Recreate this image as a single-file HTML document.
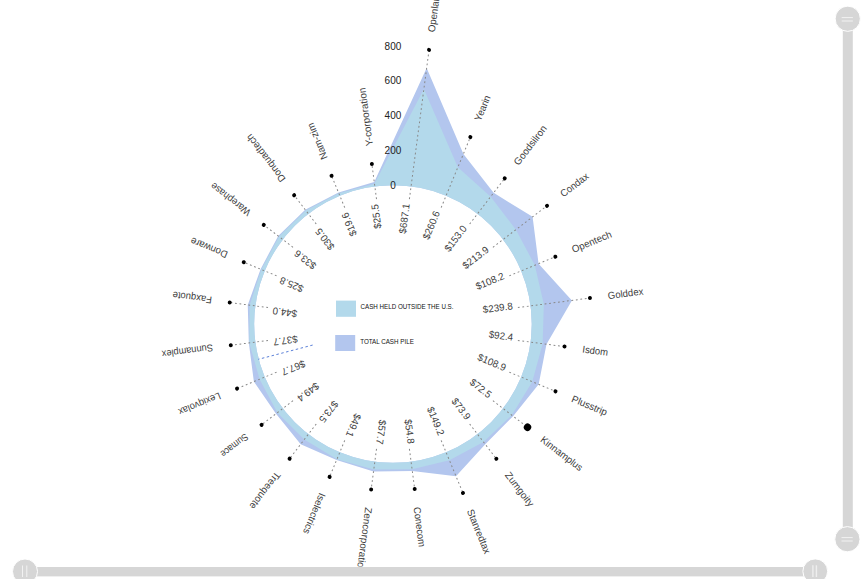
<!DOCTYPE html>
<html><head><meta charset="utf-8"><style>
html,body{margin:0;padding:0;background:#fff;width:868px;height:579px;overflow:hidden}
svg{display:block}
text{font-family:"Liberation Sans",sans-serif}
.nm{font-size:10px;fill:#404040}
.val{font-size:10px;fill:#404040}
.ax{font-size:10px;fill:#222}
.lg{font-size:8px;fill:#111}
.dl{stroke:#888;stroke-width:1;stroke-dasharray:1.8 2.7}
</style></head><body>
<svg width="868" height="579" viewBox="0 0 868 579">
<defs><clipPath id="cp"><rect x="0" y="0" width="836" height="566.6"/></clipPath></defs><g clip-path="url(#cp)">
<path d="M426.66,67.92 L463.41,153.89 L493.64,192.77 L532.58,216.86 L538.57,263.68 L571.91,300.44 L546.49,344.21 L538.68,384.36 L513.07,416.17 L485.27,444.31 L456.00,476.21 L412.31,471.06 L373.52,471.56 L336.57,460.12 L300.67,444.26 L276.02,413.73 L253.84,381.62 L248.84,342.97 L247.75,304.88 L260.57,269.17 L278.20,235.95 L305.22,209.67 L338.53,192.62 L374.25,181.99 Z M254.15,324.00 A138.8,138.8 0 1,0 531.75,324.00 A138.8,138.8 0 1,0 254.15,324.00 Z" fill="#b3c6ee" fill-rule="evenodd"/>
<path d="M423.89,88.97 L457.85,167.33 L490.68,196.64 L515.90,229.66 L534.84,265.23 L543.84,304.14 L542.63,343.71 L532.27,381.71 L511.76,415.17 L483.48,441.98 L449.39,460.27 L412.07,469.20 L373.79,469.54 L336.91,459.30 L304.32,439.50 L277.45,412.63 L259.57,379.25 L249.30,342.91 L249.65,305.13 L261.34,269.49 L278.97,236.54 L305.81,210.43 L338.84,193.36 L374.49,183.80 Z M254.15,324.00 A138.8,138.8 0 1,0 531.75,324.00 A138.8,138.8 0 1,0 254.15,324.00 Z" fill="#b3d9eb" fill-rule="evenodd"/>
<g transform="translate(392.95,324.0) rotate(-82.5)"><line x1="126" y1="0" x2="276.49" y2="0" class="dl"/><circle cx="276.49" cy="0" r="2" fill="#000"/><text x="294.59" y="0" dy="3.5" class="nm" textLength="41.7" lengthAdjust="spacingAndGlyphs">Openlane</text><text x="123.47" y="0" dy="1.0" class="val" text-anchor="end" transform="scale(0.98,1)">$687.1</text></g>
<g transform="translate(392.95,324.0) rotate(-67.5)"><line x1="126" y1="0" x2="202.32" y2="0" class="dl"/><circle cx="202.32" cy="0" r="2" fill="#000"/><text x="220.42" y="0" dy="3.5" class="nm" textLength="26.8" lengthAdjust="spacingAndGlyphs">Yearin</text><text x="123.47" y="0" dy="1.0" class="val" text-anchor="end" transform="scale(0.98,1)">$260.6</text></g>
<g transform="translate(392.95,324.0) rotate(-52.5)"><line x1="126" y1="0" x2="183.61" y2="0" class="dl"/><circle cx="183.61" cy="0" r="2" fill="#000"/><text x="201.71" y="0" dy="3.5" class="nm" textLength="47.4" lengthAdjust="spacingAndGlyphs">Goodsilron</text><text x="123.47" y="0" dy="1.0" class="val" text-anchor="end" transform="scale(0.98,1)">$153.0</text></g>
<g transform="translate(392.95,324.0) rotate(-37.5)"><line x1="126" y1="0" x2="194.20" y2="0" class="dl"/><circle cx="194.20" cy="0" r="2" fill="#000"/><text x="212.30" y="0" dy="3.5" class="nm" textLength="32.8" lengthAdjust="spacingAndGlyphs">Condax</text><text x="123.47" y="0" dy="1.0" class="val" text-anchor="end" transform="scale(0.98,1)">$213.9</text></g>
<g transform="translate(392.95,324.0) rotate(-22.5)"><line x1="126" y1="0" x2="175.82" y2="0" class="dl"/><circle cx="175.82" cy="0" r="2" fill="#000"/><text x="193.92" y="0" dy="3.5" class="nm" textLength="42.3" lengthAdjust="spacingAndGlyphs">Opentech</text><text x="123.47" y="0" dy="1.0" class="val" text-anchor="end" transform="scale(0.98,1)">$108.2</text></g>
<g transform="translate(392.95,324.0) rotate(-7.5)"><line x1="126" y1="0" x2="198.70" y2="0" class="dl"/><circle cx="198.70" cy="0" r="2" fill="#000"/><text x="216.80" y="0" dy="3.5" class="nm" textLength="35.6" lengthAdjust="spacingAndGlyphs">Golddex</text><text x="123.47" y="0" dy="1.0" class="val" text-anchor="end" transform="scale(0.98,1)">$239.8</text></g>
<g transform="translate(392.95,324.0) rotate(7.5)"><line x1="126" y1="0" x2="173.07" y2="0" class="dl"/><circle cx="173.07" cy="0" r="2" fill="#000"/><text x="191.17" y="0" dy="3.5" class="nm" textLength="25.9" lengthAdjust="spacingAndGlyphs">Isdom</text><text x="123.47" y="0" dy="1.0" class="val" text-anchor="end" transform="scale(0.98,1)">$92.4</text></g>
<g transform="translate(392.95,324.0) rotate(22.5)"><line x1="126" y1="0" x2="175.94" y2="0" class="dl"/><circle cx="175.94" cy="0" r="2" fill="#000"/><text x="194.04" y="0" dy="3.5" class="nm" textLength="37.5" lengthAdjust="spacingAndGlyphs">Plusstrip</text><text x="123.47" y="0" dy="1.0" class="val" text-anchor="end" transform="scale(0.98,1)">$108.9</text></g>
<g transform="translate(392.95,324.0) rotate(37.5)"><line x1="126" y1="0" x2="169.61" y2="0" class="dl"/><circle cx="169.61" cy="0" r="3.7" fill="#000"/><text x="187.71" y="0" dy="3.5" class="nm" textLength="50.1" lengthAdjust="spacingAndGlyphs">Kinnamplus</text><text x="123.47" y="0" dy="1.0" class="val" text-anchor="end" transform="scale(0.98,1)">$72.5</text></g>
<g transform="translate(392.95,324.0) rotate(52.5)"><line x1="126" y1="0" x2="169.85" y2="0" class="dl"/><circle cx="169.85" cy="0" r="2" fill="#000"/><text x="187.95" y="0" dy="3.5" class="nm" textLength="40.4" lengthAdjust="spacingAndGlyphs">Zumgoity</text><text x="123.47" y="0" dy="1.0" class="val" text-anchor="end" transform="scale(0.98,1)">$73.9</text></g>
<g transform="translate(392.95,324.0) rotate(67.5)"><line x1="126" y1="0" x2="182.95" y2="0" class="dl"/><circle cx="182.95" cy="0" r="2" fill="#000"/><text x="201.05" y="0" dy="3.5" class="nm" textLength="47.1" lengthAdjust="spacingAndGlyphs">Stanredtax</text><text x="123.47" y="0" dy="1.0" class="val" text-anchor="end" transform="scale(0.98,1)">$149.2</text></g>
<g transform="translate(392.95,324.0) rotate(82.5)"><line x1="126" y1="0" x2="166.53" y2="0" class="dl"/><circle cx="166.53" cy="0" r="2" fill="#000"/><text x="184.63" y="0" dy="3.5" class="nm" textLength="40.1" lengthAdjust="spacingAndGlyphs">Conecom</text><text x="123.47" y="0" dy="1.0" class="val" text-anchor="end" transform="scale(0.98,1)">$54.8</text></g>
<g transform="translate(392.95,324.0) rotate(97.5)"><line x1="126" y1="0" x2="167.03" y2="0" class="dl"/><circle cx="167.03" cy="0" r="2" fill="#000"/><text x="185.13" y="0" dy="3.5" class="nm" textLength="66.2" lengthAdjust="spacingAndGlyphs">Zencorporation</text><text x="123.47" y="0" dy="1.0" class="val" text-anchor="end" transform="scale(0.98,1)">$57.7</text></g>
<g transform="translate(392.95,324.0) rotate(112.5)"><line x1="126" y1="0" x2="165.54" y2="0" class="dl"/><circle cx="165.54" cy="0" r="2" fill="#000"/><text x="183.64" y="0" dy="3.5" class="nm" textLength="43.3" lengthAdjust="spacingAndGlyphs">Iselectrics</text><text x="123.47" y="0" dy="1.0" class="val" text-anchor="end" transform="scale(0.98,1)">$49.1</text></g>
<g transform="translate(392.95,324.0) rotate(127.5)"><line x1="126" y1="0" x2="169.78" y2="0" class="dl"/><circle cx="169.78" cy="0" r="2" fill="#000"/><text x="187.88" y="0" dy="3.5" class="nm" textLength="44.2" lengthAdjust="spacingAndGlyphs">Treequote</text><text x="123.47" y="0" dy="1.0" class="val" text-anchor="end" transform="scale(0.98,1)">$73.5</text></g>
<g transform="translate(392.95,324.0) rotate(142.5)"><line x1="126" y1="0" x2="165.59" y2="0" class="dl"/><circle cx="165.59" cy="0" r="2" fill="#000"/><text x="183.69" y="0" dy="3.5" class="nm" textLength="32.1" lengthAdjust="spacingAndGlyphs">Sumace</text><text x="123.47" y="0" dy="1.0" class="val" text-anchor="end" transform="scale(0.98,1)">$49.4</text></g>
<g transform="translate(392.95,324.0) rotate(157.5)"><line x1="126" y1="0" x2="168.77" y2="0" class="dl"/><circle cx="168.77" cy="0" r="2" fill="#000"/><text x="186.87" y="0" dy="3.5" class="nm" textLength="44.8" lengthAdjust="spacingAndGlyphs">Lexiqvolax</text><text x="123.47" y="0" dy="1.0" class="val" text-anchor="end" transform="scale(0.98,1)">$67.7</text></g>
<g transform="translate(392.95,324.0) rotate(172.5)"><line x1="126" y1="0" x2="163.56" y2="0" class="dl"/><circle cx="163.56" cy="0" r="2" fill="#000"/><text x="181.66" y="0" dy="3.5" class="nm" textLength="51.3" lengthAdjust="spacingAndGlyphs">Sunnamplex</text><text x="123.47" y="0" dy="1.0" class="val" text-anchor="end" transform="scale(0.98,1)">$37.7</text></g>
<g transform="translate(392.95,324.0) rotate(187.5)"><line x1="126" y1="0" x2="164.65" y2="0" class="dl"/><circle cx="164.65" cy="0" r="2" fill="#000"/><text x="182.75" y="0" dy="3.5" class="nm" textLength="39.5" lengthAdjust="spacingAndGlyphs">Faxquote</text><text x="123.47" y="0" dy="1.0" class="val" text-anchor="end" transform="scale(0.98,1)">$44.0</text></g>
<g transform="translate(392.95,324.0) rotate(202.5)"><line x1="126" y1="0" x2="161.49" y2="0" class="dl"/><circle cx="161.49" cy="0" r="2" fill="#000"/><text x="179.59" y="0" dy="3.5" class="nm" textLength="39.2" lengthAdjust="spacingAndGlyphs">Donware</text><text x="123.47" y="0" dy="1.0" class="val" text-anchor="end" transform="scale(0.98,1)">$25.8</text></g>
<g transform="translate(392.95,324.0) rotate(217.5)"><line x1="126" y1="0" x2="162.84" y2="0" class="dl"/><circle cx="162.84" cy="0" r="2" fill="#000"/><text x="180.94" y="0" dy="3.5" class="nm" textLength="47.5" lengthAdjust="spacingAndGlyphs">Warephase</text><text x="123.47" y="0" dy="1.0" class="val" text-anchor="end" transform="scale(0.98,1)">$33.6</text></g>
<g transform="translate(392.95,324.0) rotate(232.5)"><line x1="126" y1="0" x2="162.30" y2="0" class="dl"/><circle cx="162.30" cy="0" r="2" fill="#000"/><text x="180.40" y="0" dy="3.5" class="nm" textLength="57.3" lengthAdjust="spacingAndGlyphs">Donquadtech</text><text x="123.47" y="0" dy="1.0" class="val" text-anchor="end" transform="scale(0.98,1)">$30.5</text></g>
<g transform="translate(392.95,324.0) rotate(247.5)"><line x1="126" y1="0" x2="160.41" y2="0" class="dl"/><circle cx="160.41" cy="0" r="2" fill="#000"/><text x="178.51" y="0" dy="3.5" class="nm" textLength="38.5" lengthAdjust="spacingAndGlyphs">Nam-zim</text><text x="123.47" y="0" dy="1.0" class="val" text-anchor="end" transform="scale(0.98,1)">$19.6</text></g>
<g transform="translate(392.95,324.0) rotate(262.5)"><line x1="126" y1="0" x2="161.43" y2="0" class="dl"/><circle cx="161.43" cy="0" r="2" fill="#000"/><text x="179.53" y="0" dy="3.5" class="nm" textLength="58.7" lengthAdjust="spacingAndGlyphs">Y-corporation</text><text x="123.47" y="0" dy="1.0" class="val" text-anchor="end" transform="scale(0.98,1)">$25.5</text></g>
<text x="392.95" y="185.20" dy="3.5" text-anchor="middle" class="ax">0</text>
<text x="392.95" y="150.42" dy="3.5" text-anchor="middle" class="ax">200</text>
<text x="392.95" y="115.64" dy="3.5" text-anchor="middle" class="ax">400</text>
<text x="392.95" y="80.85" dy="3.5" text-anchor="middle" class="ax">600</text>
<text x="392.95" y="46.07" dy="3.5" text-anchor="middle" class="ax">800</text>
<line x1="312.67" y1="345.06" x2="258.31" y2="359.32" stroke="#5a7fd8" stroke-width="1" stroke-dasharray="2.5 2.5"/>
<rect x="336" y="300.6" width="20" height="16.2" fill="#b3d9eb"/>
<rect x="335.2" y="335" width="20" height="16" fill="#b3c6ee"/>
<text x="360.5" y="308.7" class="lg" textLength="93" lengthAdjust="spacingAndGlyphs">CASH HELD OUTSIDE THE U.S.</text>
<text x="360.2" y="343.9" class="lg" textLength="53.6" lengthAdjust="spacingAndGlyphs">TOTAL CASH PILE</text>
</g>
<rect x="842.8" y="20" width="10" height="518" fill="#d6d6d6"/>
<circle cx="847.75" cy="18.75" r="12.6" fill="#d6d6d6" stroke="#fff" stroke-width="1"/>
<circle cx="847.4" cy="539.2" r="12.6" fill="#d6d6d6" stroke="#fff" stroke-width="1"/>
<line x1="841.7" y1="17.6" x2="852.9" y2="17.6" stroke="#f2f2f2" stroke-width="1"/>
<line x1="841.7" y1="21.0" x2="852.9" y2="21.0" stroke="#f2f2f2" stroke-width="1"/>
<line x1="841.5" y1="537.6" x2="852.7" y2="537.6" stroke="#f2f2f2" stroke-width="1"/>
<line x1="841.5" y1="541.0" x2="852.7" y2="541.0" stroke="#f2f2f2" stroke-width="1"/>
<rect x="26" y="567" width="788" height="9.4" fill="#d6d6d6"/>
<circle cx="25" cy="571.5" r="12.5" fill="#d6d6d6" stroke="#fff" stroke-width="1"/>
<circle cx="815.25" cy="571.3" r="12.4" fill="#d6d6d6" stroke="#fff" stroke-width="1"/>
<line x1="22.5" y1="565.5" x2="22.5" y2="577" stroke="#f2f2f2" stroke-width="1"/>
<line x1="26.8" y1="565.5" x2="26.8" y2="577" stroke="#f2f2f2" stroke-width="1"/>
<line x1="812.9" y1="565.3" x2="812.9" y2="577" stroke="#eee" stroke-width="1.4"/>
<line x1="816.4" y1="565.3" x2="816.4" y2="577" stroke="#eee" stroke-width="1.4"/>
</svg>
</body></html>
